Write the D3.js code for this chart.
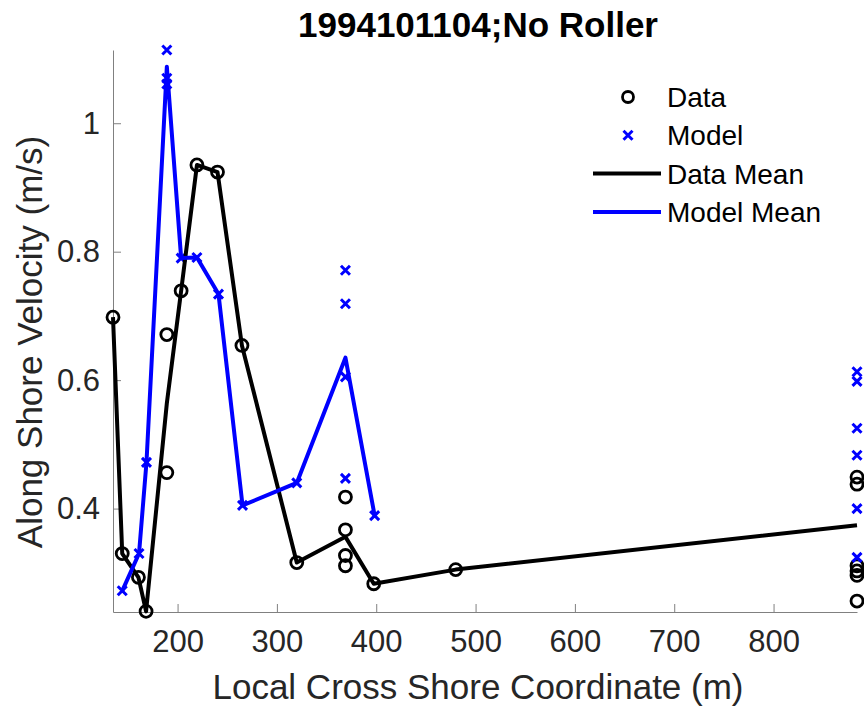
<!DOCTYPE html>
<html>
<head>
<meta charset="utf-8">
<script src="https://cdn.jsdelivr.net/npm/d3@7"></script>
<style>
  body { margin: 0; background: #fff; }
  svg { font-family: "Liberation Sans", Arial, sans-serif; }
</style>
</head>
<body>
<div id="chart"></div>
<script>
// measured points (cross shore position, velocity)
var dataX = [135, 144.3, 160.6, 168.3, 189.2, 189.2, 203.6, 219.5, 240.2, 264.8, 320, 369, 369, 369, 369, 397.5, 480, 884, 884, 884, 884, 884, 884];
var dataV = [0.698, 0.330, 0.293, 0.240, 0.456, 0.671, 0.739, 0.935, 0.924, 0.654, 0.316, 0.418, 0.367, 0.327, 0.311, 0.283, 0.305, 0.449, 0.438, 0.311, 0.303, 0.296, 0.256];

var modelX = [144.3, 161.2, 168.7, 189.2, 189.2, 189.2, 203.6, 219.5, 241.2, 265.4, 320, 369, 369, 369, 369, 398.4, 884, 884, 884, 884, 884, 884];
var modelV = [0.272, 0.330, 0.472, 1.114, 1.070, 1.061, 0.790, 0.791, 0.734, 0.405, 0.440, 0.771, 0.719, 0.605, 0.447, 0.389, 0.613, 0.598, 0.525, 0.483, 0.400, 0.324];

var dataMeanX = [135, 144.3, 160.6, 168.3, 189.2, 203.6, 219.5, 240.2, 264.8, 320, 369, 397.5, 480, 884];
var dataMeanV = [0.698, 0.330, 0.293, 0.240, 0.564, 0.739, 0.935, 0.924, 0.654, 0.316, 0.356, 0.283, 0.305, 0.374];

var modelMeanX = [144.3, 161.2, 168.7, 189.2, 203.6, 219.5, 241.2, 265.4, 320, 369, 398.4];
var modelMeanV = [0.272, 0.330, 0.472, 1.088, 0.790, 0.791, 0.734, 0.405, 0.440, 0.635, 0.389];

var xTicks = [200, 300, 400, 500, 600, 700, 800];
var yTicks = [0.4, 0.6, 0.8, 1];
var legendNames = ["Data", "Model", "Data Mean", "Model Mean"];

var W = 864, H = 714;
var margin = {top: 50, right: 7, bottom: 102, left: 113};
var width = W - margin.left - margin.right,
    height = H - margin.top - margin.bottom;

var svg = d3.select("#chart").append("svg")
    .attr("width", W)
    .attr("height", H);

var g = svg.append("g")
    .attr("transform", "translate(" + margin.left + "," + margin.top + ")");

var x = d3.scaleLinear().domain([135, 884]).range([0, width]);
var y = d3.scaleLinear().domain([0.239, 1.114]).range([height, 0]);

// axes, ticks pointing inward like matlab
var xAxis = g.append("g")
    .attr("transform", "translate(0," + height + ")")
    .call(d3.axisBottom(x).tickValues(xTicks).tickSize(-8).tickPadding(18).tickSizeOuter(0));
var yAxis = g.append("g")
    .call(d3.axisLeft(y).tickValues(yTicks).tickSize(-8).tickPadding(13).tickSizeOuter(0)
      .tickFormat(function(d) { return d === 1 ? "1" : d3.format(".1f")(d); }));

[xAxis, yAxis].forEach(function(a) {
  a.selectAll("path").attr("stroke", "#808080").attr("stroke-width", 1);
  a.selectAll("line").attr("stroke", "#808080");
  a.selectAll("text").attr("fill", "#262626").style("font-size", "31px")
    .style("font-family", "'Liberation Sans', Arial, sans-serif");
});
xAxis.selectAll("text").attr("dy", "0.71em");

svg.append("text")
    .attr("x", margin.left + width / 2 - 7)
    .attr("y", 699)
    .attr("text-anchor", "middle")
    .attr("fill", "#262626")
    .style("font-size", "35px")
    .text("Local Cross Shore Coordinate (m)");

svg.append("text")
    .attr("transform", "translate(42,342) rotate(-90)")
    .attr("text-anchor", "middle")
    .attr("fill", "#262626")
    .style("font-size", "35px")
    .text("Along Shore Velocity (m/s)");

svg.append("text")
    .attr("x", 478)
    .attr("y", 37)
    .attr("text-anchor", "middle")
    .attr("fill", "#000")
    .style("font-size", "35px")
    .style("font-weight", "bold")
    .text("1994101104;No Roller");

// markers
function cross(sel, s) {
  sel.append("path")
    .attr("d", "M" + (-s) + "," + (-s) + "L" + s + "," + s + "M" + (-s) + "," + s + "L" + s + "," + (-s))
    .attr("stroke", "#0000ff")
    .attr("stroke-width", 3)
    .attr("fill", "none");
}

g.selectAll(".dot")
    .data(dataX)
    .enter().append("circle")
    .attr("class", "dot")
    .attr("cx", function(d) { return x(d); })
    .attr("cy", function(d, i) { return y(dataV[i]); })
    .attr("r", 6)
    .attr("fill", "none")
    .attr("stroke", "#000")
    .attr("stroke-width", 2.8);

g.selectAll(".mx")
    .data(modelX)
    .enter().append("g")
    .attr("class", "mx")
    .attr("transform", function(d, i) { return "translate(" + x(d) + "," + y(modelV[i]) + ")"; })
    .each(function() { cross(d3.select(this), 4.5); });

var line = d3.line()
    .x(function(d) { return x(d[0]); })
    .y(function(d) { return y(d[1]); });

g.append("path")
    .datum(d3.zip(dataMeanX, dataMeanV))
    .attr("d", line)
    .attr("fill", "none")
    .attr("stroke", "#000")
    .attr("stroke-width", 4)
    .attr("stroke-linejoin", "round");

g.append("path")
    .datum(d3.zip(modelMeanX, modelMeanV))
    .attr("d", line)
    .attr("fill", "none")
    .attr("stroke", "#0000ff")
    .attr("stroke-width", 4)
    .attr("stroke-linejoin", "round");

// legend
var leg = svg.append("g").attr("transform", "translate(593,97)");
legendNames.forEach(function(name, i) {
  var row = leg.append("g").attr("transform", "translate(0," + (i * 38.3) + ")");
  if (i === 0) {
    row.append("circle").attr("cx", 35).attr("cy", 0).attr("r", 5.5)
      .attr("fill", "none").attr("stroke", "#000").attr("stroke-width", 2.8);
  } else if (i === 1) {
    var c = row.append("g").attr("transform", "translate(35,0)");
    cross(c, 4.5);
  } else {
    row.append("line").attr("x1", 0).attr("x2", 68).attr("y1", 0).attr("y2", 0)
      .attr("stroke", i === 2 ? "#000" : "#0000ff").attr("stroke-width", 4);
  }
  row.append("text")
    .attr("x", 74)
    .attr("y", 0)
    .attr("dy", "0.36em")
    .attr("fill", "#000")
    .style("font-size", "28px")
    .text(name);
});
</script>
</body>
</html>
